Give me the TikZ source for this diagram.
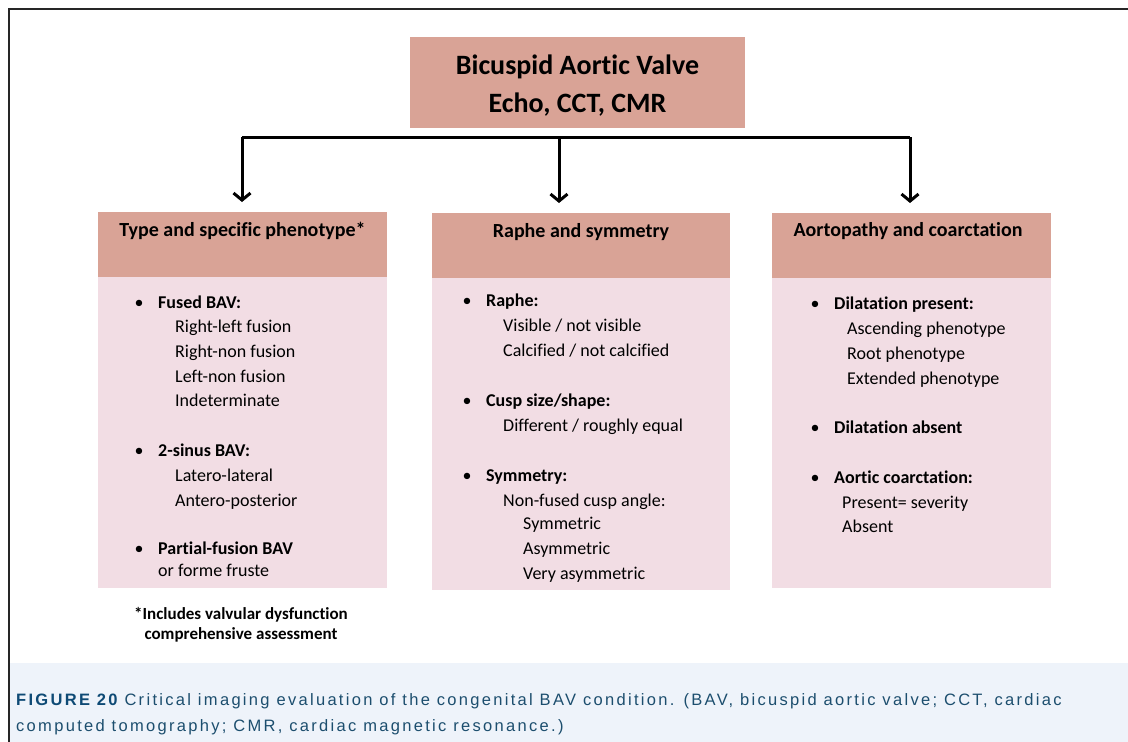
\documentclass[tikz,border=0pt]{standalone}
\usepackage{fontspec}
\setmainfont{Carlito}[Ligatures=NoCommon]
\newfontfamily\capfont[LetterSpace=14]{Liberation Sans}
\usetikzlibrary{arrows.meta}
\definecolor{hdrfill}{HTML}{D9A396}
\definecolor{bodyfill}{HTML}{F2DDE4}
\definecolor{capbg}{HTML}{EEF3FA}
\definecolor{captext}{HTML}{1C4E6E}
\definecolor{capfig}{HTML}{0E4A75}
\tikzset{
  hdrbox/.style={fill=hdrfill, draw=none, anchor=north west, inner sep=0pt},
  bodybox/.style={fill=bodyfill, draw=none, anchor=north west, inner sep=0pt},
  hdrtext/.style={font=\fontsize{20}{24}\selectfont\bfseries, anchor=mid, inner sep=0pt, yshift=-3pt},
  bul/.style={font=\fontsize{18}{22}\selectfont, anchor=mid, inner sep=0pt, yshift=-4pt},
  head/.style={font=\fontsize{18}{22}\selectfont\bfseries, anchor=mid west, inner sep=0pt, yshift=-4pt},
  item/.style={font=\fontsize{18}{22}\selectfont, anchor=mid west, inner sep=0pt, yshift=-4pt},
  captxt/.style={anchor=base west, inner sep=0pt, font=\capfont\fontsize{16.5}{19}\selectfont, text=captext},
  barline/.style={line width=3pt, black},
  arr/.style={line width=3pt, black, -{Straight Barb[length=7pt,width=17pt]}, shorten >=10pt},
  frameline/.style={line width=2pt, black!85},
}
\begin{document}
\begin{tikzpicture}[x=1pt,y=-1pt]
\useasboundingbox (0,0) rectangle (1128,742);
% caption background
\fill[capbg] (10,663) rectangle (1128,742);
% frame
\draw[frameline] (9,742) -- (9,9) -- (1128,9);
% top box
\node[hdrbox, minimum width=335, minimum height=91] (top) at (410,37) {};
\node[font=\fontsize{28}{38}\selectfont\bfseries, align=center, inner sep=0pt] (toptext) at (577.5,86) {Bicuspid Aortic Valve\\Echo, CCT, CMR};
% column boxes
\node[hdrbox, minimum width=289, minimum height=65] (h1) at (98,212) {};
\node[bodybox, minimum width=289, minimum height=311] (b1) at (98,277) {};
\node[hdrbox, minimum width=298, minimum height=65] (h2) at (432,213) {};
\node[bodybox, minimum width=298, minimum height=312] (b2) at (432,278) {};
\node[hdrbox, minimum width=279, minimum height=65] (h3) at (772,213) {};
\node[bodybox, minimum width=279, minimum height=310] (b3) at (772,278) {};
% connectors
\coordinate (bl) at (242,137);
\coordinate (bm) at (559,137);
\coordinate (br) at (910,137);
\draw[barline] (bl) -- (br);
\draw[arr] (bl) -- (bl |- h1.north);
\draw[arr] (bm) -- (bm |- h2.north);
\draw[arr] (br) -- (br |- h3.north);
% header texts
\node[hdrtext] (t1) at (242.5,231) {Type and specific phenotype*};
\node[hdrtext] (t2) at (581,232) {Raphe and symmetry};
\node[hdrtext] (t3) at (908,231) {Aortopathy and coarctation};
% column 1
\node[bul] (c1b1) at (139,302) {•};
\node[head] (c1h1) at (158,302) {Fused BAV:};
\node[item] (c1i1) at (175,326) {Right-left fusion};
\node[item] (c1i2) at (175,351) {Right-non fusion};
\node[item] (c1i3) at (175,376) {Left-non fusion};
\node[item] (c1i4) at (175,400) {Indeterminate};
\node[bul] (c1b2) at (139,450) {•};
\node[head] (c1h2) at (158,450) {2-sinus BAV:};
\node[item] (c1i5) at (175,475) {Latero-lateral};
\node[item] (c1i6) at (175,500) {Antero-posterior};
\node[bul] (c1b3) at (139,548) {•};
\node[head] (c1h3) at (158,548) {Partial-fusion BAV};
\node[item] (c1i7) at (158,570) {or forme fruste};
\node[font=\fontsize{17}{20}\selectfont\bfseries, align=center, inner sep=0pt] (foot) at (241,625) {*Includes valvular dysfunction\\comprehensive assessment};
% column 2
\node[bul] (c2b1) at (467,300) {•};
\node[head] (c2h1) at (486,300) {Raphe:};
\node[item] (c2i1) at (503,325) {Visible / not visible};
\node[item] (c2i2) at (503,350) {Calcified / not calcified};
\node[bul] (c2b2) at (467,400) {•};
\node[head] (c2h2) at (486,400) {Cusp size/shape:};
\node[item] (c2i3) at (503,425) {Different / roughly equal};
\node[bul] (c2b3) at (467,475) {•};
\node[head] (c2h3) at (486,475) {Symmetry:};
\node[item] (c2i4) at (503,500) {Non-fused cusp angle:};
\node[item] (c2i5) at (523,523) {Symmetric};
\node[item] (c2i6) at (523,548) {Asymmetric};
\node[item] (c2i7) at (523,573) {Very asymmetric};
% column 3
\node[bul] (c3b1) at (815,303) {•};
\node[head] (c3h1) at (834,303) {Dilatation present:};
\node[item] (c3i1) at (847,328) {Ascending phenotype};
\node[item] (c3i2) at (847,353) {Root phenotype};
\node[item] (c3i3) at (847,378) {Extended phenotype};
\node[bul] (c3b2) at (815,427) {•};
\node[head] (c3h2) at (834,427) {Dilatation absent};
\node[bul] (c3b3) at (815,477) {•};
\node[head] (c3h3) at (834,477) {Aortic coarctation:};
\node[item] (c3i4) at (842,502) {Present= severity};
\node[item] (c3i5) at (842,526) {Absent};
% caption
\node[captxt] (cap1) at (16,705) {{\color{capfig}\bfseries FIGURE 20} Critical imaging evaluation of the congenital BAV condition. (BAV, bicuspid aortic valve; CCT, cardiac};
\node[captxt] (cap2) at (16,731) {computed tomography; CMR, cardiac magnetic resonance.)};
\end{tikzpicture}
\end{document}
